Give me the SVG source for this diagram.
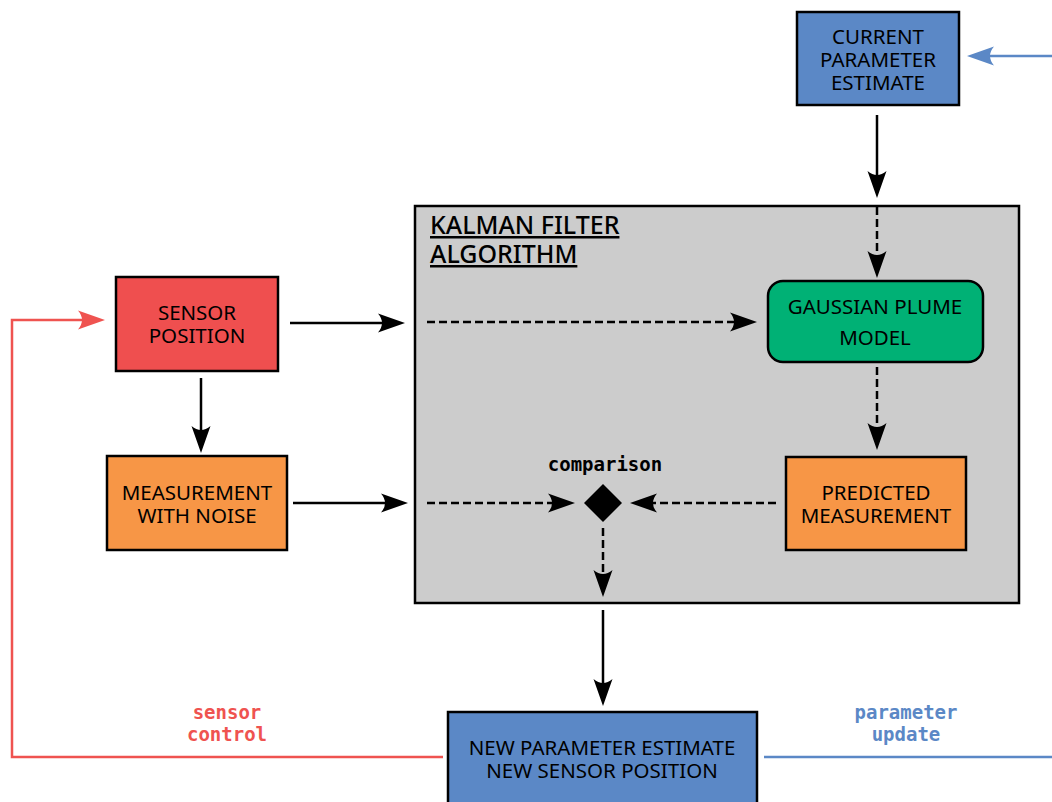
<svg xmlns="http://www.w3.org/2000/svg" width="1052" height="802" viewBox="0 0 1052 802">
<style>
.box{stroke:#000;stroke-width:2.5}
.lbl{font-family:"Noto Sans","Open Sans",sans-serif;font-size:20.5px;fill:#000;text-anchor:middle}
.mono{font-family:"DejaVu Sans Mono",monospace;font-weight:bold;font-size:19px;text-anchor:middle}
.ttl{font-family:"Noto Sans","Open Sans",sans-serif;font-size:25px;font-weight:500;text-decoration:underline}
.sl{fill:none;stroke:#000;stroke-width:2.5}
.dl{fill:none;stroke:#000;stroke-width:2.5;stroke-dasharray:8 4}
</style>
<defs>
<marker id="ak" markerUnits="userSpaceOnUse" viewBox="-28 -10 30 20" markerWidth="30" markerHeight="20" refX="-14" refY="0" orient="auto"><path d="M0,0 L-27,-9.5 Q-19,0 -27,9.5 Z" fill="#000"/></marker>
<marker id="ar" markerUnits="userSpaceOnUse" viewBox="-28 -10 30 20" markerWidth="30" markerHeight="20" refX="-14" refY="0" orient="auto"><path d="M0,0 L-27,-9.5 Q-19,0 -27,9.5 Z" fill="#ef5350"/></marker>
<marker id="ab" markerUnits="userSpaceOnUse" viewBox="-28 -10 30 20" markerWidth="30" markerHeight="20" refX="-14" refY="0" orient="auto"><path d="M0,0 L-27,-9.5 Q-19,0 -27,9.5 Z" fill="#5b88c6"/></marker>
</defs>
<g id="kalman">
<rect x="415" y="206" width="604" height="397" fill="#cccccc" class="box"/>
<text x="430" y="234" class="ttl">KALMAN FILTER</text>
<text x="430" y="263" class="ttl">ALGORITHM</text>
</g>
<g id="connectors">
<line x1="1052" y1="56" x2="981" y2="56" stroke="#5b88c6" stroke-width="2.5" marker-end="url(#ab)"/>
<line x1="877" y1="115" x2="877" y2="184" class="sl" marker-end="url(#ak)"/>
<line x1="877" y1="207" x2="877" y2="264" class="dl" marker-end="url(#ak)"/>
<line x1="877" y1="367" x2="877" y2="436" class="dl" marker-end="url(#ak)"/>
<line x1="290" y1="323" x2="391" y2="323" class="sl" marker-end="url(#ak)"/>
<line x1="427" y1="322" x2="743" y2="322" class="dl" marker-end="url(#ak)"/>
<line x1="201" y1="378" x2="201" y2="439" class="sl" marker-end="url(#ak)"/>
<line x1="293" y1="503" x2="394" y2="503" class="sl" marker-end="url(#ak)"/>
<line x1="427" y1="503" x2="561" y2="503" class="dl" marker-end="url(#ak)"/>
<line x1="776" y1="503" x2="644" y2="503" class="dl" marker-end="url(#ak)"/>
<line x1="603" y1="528" x2="603" y2="583" class="dl" marker-end="url(#ak)"/>
<line x1="603" y1="610" x2="603" y2="692" class="sl" marker-end="url(#ak)"/>
<polyline points="443,757 12,757 12,320 91,320" fill="none" stroke="#ef5350" stroke-width="2.5" marker-end="url(#ar)"/>
<line x1="764" y1="757" x2="1052" y2="757" stroke="#5b88c6" stroke-width="2.5"/>
<text x="227" y="719" class="mono" fill="#ef5350">sensor</text>
<text x="227" y="741" class="mono" fill="#ef5350">control</text>
<text x="906" y="719" class="mono" fill="#5b88c6">parameter</text>
<text x="906" y="741" class="mono" fill="#5b88c6">update</text>
</g>
<g id="current">
<rect x="797" y="12" width="162" height="93" fill="#5b88c6" class="box"/>
<text x="878" y="44" class="lbl">CURRENT</text>
<text x="878" y="67" class="lbl">PARAMETER</text>
<text x="878" y="90" class="lbl">ESTIMATE</text>
</g>
<g id="plume">
<rect x="768" y="281" width="215" height="81" rx="15" fill="#00b175" class="box"/>
<text x="875" y="314" class="lbl">GAUSSIAN PLUME</text>
<text x="875" y="345" class="lbl">MODEL</text>
</g>
<g id="predicted">
<rect x="786" y="457" width="180" height="93" fill="#f79646" class="box"/>
<text x="876" y="500" class="lbl">PREDICTED</text>
<text x="876" y="523" class="lbl">MEASUREMENT</text>
</g>
<g id="sensor">
<rect x="116" y="277" width="162" height="94" fill="#ef4f4f" class="box"/>
<text x="197" y="320" class="lbl">SENSOR</text>
<text x="197" y="343" class="lbl">POSITION</text>
</g>
<g id="measurement">
<rect x="107" y="456" width="180" height="94" fill="#f79646" class="box"/>
<text x="197" y="500" class="lbl">MEASUREMENT</text>
<text x="197" y="523" class="lbl">WITH NOISE</text>
</g>
<g id="comparison">
<polygon points="603,484 622,503 603,522 584,503" fill="#000"/>
<text x="605" y="471" class="mono" fill="#000">comparison</text>
</g>
<g id="newparam">
<rect x="448" y="712" width="309" height="100" fill="#5b88c6" class="box"/>
<text x="602" y="755" class="lbl">NEW PARAMETER ESTIMATE</text>
<text x="602" y="778" class="lbl">NEW SENSOR POSITION</text>
</g>
</svg>
